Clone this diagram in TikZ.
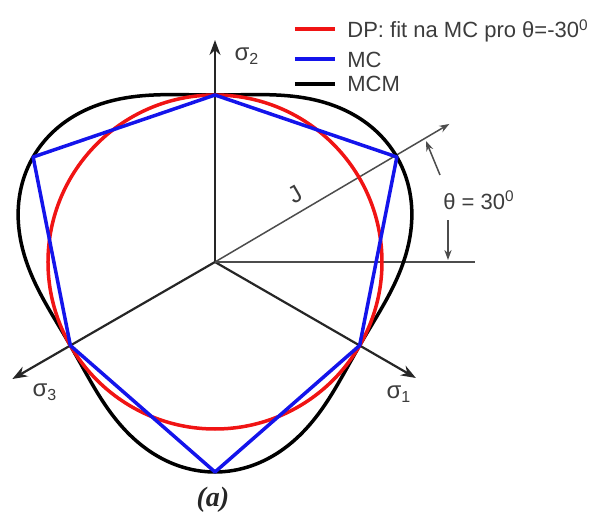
\documentclass[tikz,border=0pt]{standalone}
\usepackage{fontspec}
\setmainfont{Liberation Sans}
\newfontfamily\capfont{Liberation Serif}
\usetikzlibrary{arrows.meta}
\definecolor{mcred}{RGB}{240,20,20}
\definecolor{mcblue}{RGB}{20,20,235}
\definecolor{txtgray}{RGB}{60,60,60}
\begin{document}
\begin{tikzpicture}[x=0.5pt,y=0.5pt,
  axis/.style={draw=black!85, line width=1.1pt, -{Stealth[length=7.5pt,width=5.5pt]}},
  thinline/.style={draw=black!70, line width=0.75pt},
  thinarrow/.style={thinline, -{Stealth[length=5pt,width=3.6pt]}},
  lbl/.style={text=txtgray, font=\fontsize{11}{13}\selectfont, inner sep=0pt},
  slbl/.style={text=txtgray, font=\fontsize{12}{14}\selectfont, inner sep=0pt},
  curve/.style={line width=1.75pt, line join=round},
  legline/.style={line width=1.6pt}]
\useasboundingbox (-215,-263) rectangle (386,262);
% axes
\coordinate (O) at (0,0);
\coordinate (s2) at (90:222);
\coordinate (s1) at (-30:232);
\coordinate (s3) at (210:234);
\coordinate (Jend) at (30.5:272);
\coordinate (Hend) at (260,0);
\draw[axis] (O) -- (s2);
\draw[axis] (O) -- (s1);
\draw[axis] (O) -- (s3);
\draw[thinarrow] (O) -- (Jend);
\draw[thinline] (O) -- (Hend);
% MCM curve
\draw[curve, black] plot[domain=0:360, samples=181, smooth cycle]
  ({(188.5+21.5*sin(3*\x))*cos(\x)}, {(188.5+21.5*sin(3*\x))*sin(\x)});
% DP circle
\draw[curve, mcred] (O) circle[radius=167];
% MC hexagon
\draw[curve, mcblue] (30:210) -- (90:167) -- (150:210) -- (210:167) -- (270:210) -- (330:167) -- cycle;
% angle indicator
\coordinate (a1) at (225,87);
\coordinate (a2) at (211,121);
\coordinate (b1) at (233,42);
\coordinate (b2) at (233,2);
\draw[thinarrow] (a1) -- (a2);
\draw[thinarrow] (b1) -- (b2);
% labels
\node[slbl] (ls2) at (32,206) {σ\textsubscript{2}};
\node[slbl] (ls3) at (-170,-130) {σ\textsubscript{3}};
\node[slbl] (ls1) at (184,-132) {σ\textsubscript{1}};
\node[slbl, rotate=30] (lJ) at (80,68) {J};
\node[lbl, anchor=west] (lth) at (228,62) {θ = 30\textsuperscript{0}};
\node[inner sep=0pt, text=black!85, font=\capfont\fontsize{14}{16}\selectfont\bfseries\itshape] (cap) at (-2,-238) {(a)};
% legend
\coordinate (r1) at (80,233); \coordinate (r2) at (120,233);
\coordinate (u1) at (80,203); \coordinate (u2) at (120,203);
\coordinate (k1) at (80,178); \coordinate (k2) at (120,178);
\draw[legline, mcred] (r1) -- (r2);
\draw[legline, mcblue] (u1) -- (u2);
\draw[legline, black] (k1) -- (k2);
\node[lbl, anchor=base west] (t1) at (132,224) {DP: fit na MC pro θ=-30\textsuperscript{0}};
\node[lbl, anchor=base west] (t2) at (132,194) {MC};
\node[lbl, anchor=base west] (t3) at (132,170) {MCM};
\end{tikzpicture}
\end{document}
